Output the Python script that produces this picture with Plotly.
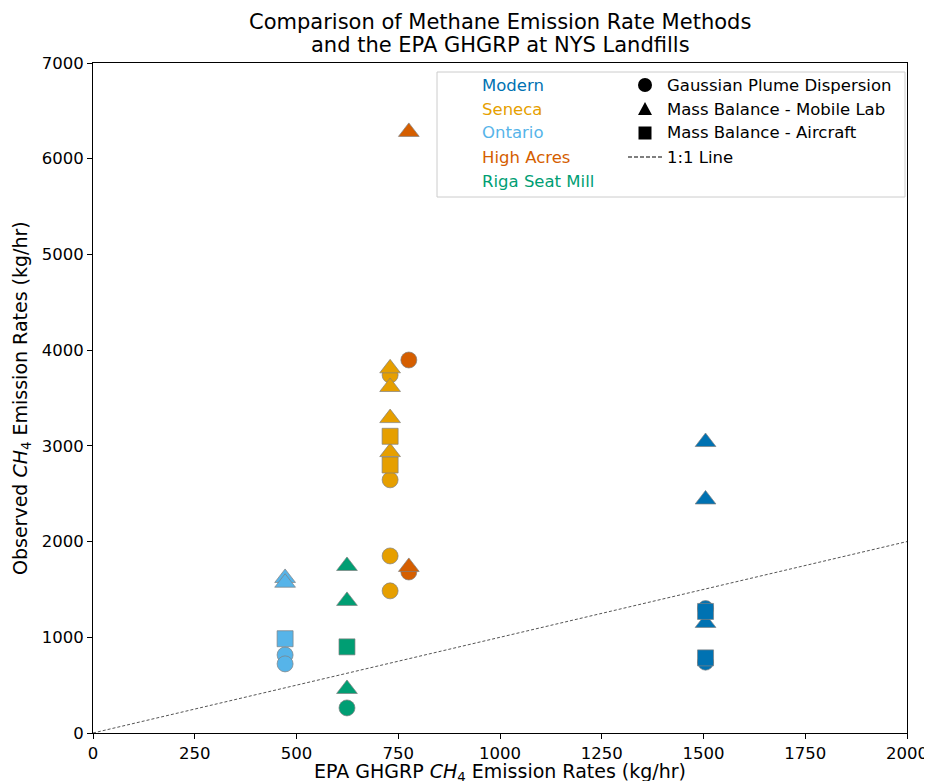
import plotly.graph_objects as go

# ---------------- data ----------------
sites = ["Modern", "Seneca", "Ontario", "High Acres", "Riga Seat Mill"]
site_colors = ["#0072B2", "#E69F00", "#56B4E9", "#D55E00", "#009E73"]
ghgrp = [1505, 730, 472, 776, 624]

methods = ["Gaussian Plume Dispersion", "Mass Balance - Mobile Lab", "Mass Balance - Aircraft"]
method_symbols = ["circle", "triangle-up", "square"]

# observed emissions (kg/hr) per site per method
gaussian = {
    "Modern": [1300, 740],
    "Seneca": [3740, 2645, 1850, 1485],
    "Ontario": [815, 722],
    "High Acres": [3897, 1682],
    "Riga Seat Mill": [262],
}
mobile_lab = {
    "Modern": [3040, 2440, 1150],
    "Seneca": [3810, 3615, 3290, 2935],
    "Ontario": [1620, 1570],
    "High Acres": [6280, 1735],
    "Riga Seat Mill": [1745, 1380, 460],
}
aircraft = {
    "Modern": [1270, 785],
    "Seneca": [3100, 2800],
    "Ontario": [985],
    "High Acres": [],
    "Riga Seat Mill": [900],
}
method_data = [gaussian, mobile_lab, aircraft]

one_to_one_x = [0, 2000]
one_to_one_y = [0, 2000]

x_ticks = [0, 250, 500, 750, 1000, 1250, 1500, 1750, 2000]
y_ticks = [0, 1000, 2000, 3000, 4000, 5000, 6000, 7000]

title_lines = ["Comparison of Methane Emission Rate Methods",
               "and the EPA GHGRP at NYS Landfills"]
x_title = "EPA GHGRP <i>CH</i><sub>4</sub> Emission Rates (kg/hr)"
y_title = "Observed <i>CH</i><sub>4</sub> Emission Rates (kg/hr)"

FONT = "DejaVu Sans"
fig = go.Figure()

fig.add_trace(go.Scatter(
    x=one_to_one_x, y=one_to_one_y, mode="lines",
    line=dict(color="#555555", width=1, dash="3px,2px"),
    showlegend=False, hoverinfo="skip"))

sizes = {"circle": 16, "triangle-up": 18, "square": 16}
for mdata, sym in zip(method_data, method_symbols):
    for site, col, gx in zip(sites, site_colors, ghgrp):
        vals = mdata[site]
        if not vals:
            continue
        fig.add_trace(go.Scatter(
            x=[gx] * len(vals), y=vals, mode="markers",
            marker=dict(symbol=sym, size=sizes[sym], color=col,
                        line=dict(color="#808080", width=0.7)),
            showlegend=False, name=site))

# ---------------- layout geometry (page offset of 8px from body margin) ----------------
OFF = 8
W, H = 932 - OFF, 781 - OFF
L, R, T, B = 93, 907, 63, 733

def px(xp):
    return (xp - L) / (R - L)
def py(yp):
    return (B - yp) / (B - T)

shapes = [dict(type="rect", xref="paper", yref="paper",
               x0=px(437), x1=px(905), y0=py(197), y1=py(72),
               line=dict(color="#CCCCCC", width=1), fillcolor="rgba(255,255,255,0.85)",
               layer="above")]
annotations = []
rows = [85, 109, 133, 157, 181]
LEG_FS = 16.5
for site, col, yr in zip(sites, site_colors, rows):
    annotations.append(dict(xref="paper", yref="paper", x=px(480), y=py(yr),
                            text=site, showarrow=False, xanchor="left", yanchor="middle",
                            font=dict(family=FONT, size=LEG_FS, color=col)))
labels = methods + ["1:1 Line"]
for lab, yr in zip(labels, rows[:4]):
    annotations.append(dict(xref="paper", yref="paper", x=px(665), y=py(yr),
                            text=lab, showarrow=False, xanchor="left", yanchor="middle",
                            font=dict(family=FONT, size=LEG_FS, color="black")))
cx = 645
shapes.append(dict(type="circle", xref="paper", yref="paper",
                   x0=px(cx - 7), x1=px(cx + 7), y0=py(85 + 7), y1=py(85 - 7),
                   fillcolor="black", line=dict(width=0), layer="above"))
ty = 109
shapes.append(dict(type="path", xref="paper", yref="paper",
                   path=f"M {px(cx-7)} {py(ty+6)} L {px(cx+7)} {py(ty+6)} L {px(cx)} {py(ty-7)} Z",
                   fillcolor="black", line=dict(width=0), layer="above"))
shapes.append(dict(type="rect", xref="paper", yref="paper",
                   x0=px(cx - 6.5), x1=px(cx + 6.5), y0=py(133 + 6.5), y1=py(133 - 6.5),
                   fillcolor="black", line=dict(width=0), layer="above"))
shapes.append(dict(type="line", xref="paper", yref="paper",
                   x0=px(628), x1=px(662), y0=py(157), y1=py(157),
                   line=dict(color="black", width=1.2, dash="4px,2px"), layer="above"))

# title as two annotation lines
for line, yl in zip(title_lines, [22, 45]):
    annotations.append(dict(xref="paper", yref="paper", x=0.5, y=py(yl),
                            text=line, showarrow=False, xanchor="center", yanchor="middle",
                            font=dict(family=FONT, size=21, color="black")))
# axis titles as annotations
annotations.append(dict(xref="paper", yref="paper", x=0.5, y=py(772),
                        text=x_title, showarrow=False, xanchor="center", yanchor="middle",
                        font=dict(family=FONT, size=19, color="black")))
annotations.append(dict(xref="paper", yref="paper", x=px(21), y=0.5,
                        text=y_title, showarrow=False, xanchor="center", yanchor="middle",
                        textangle=-90, font=dict(family=FONT, size=19, color="black")))

fig.update_layout(
    width=W, height=H,
    margin=dict(l=L - OFF, r=W - (R - OFF), t=T - OFF, b=H - (B - OFF), autoexpand=False),
    paper_bgcolor="white", plot_bgcolor="white",
    font=dict(family=FONT, size=16.5, color="black"),
    shapes=shapes, annotations=annotations,
    showlegend=False,
)
fig.update_xaxes(range=[0, 2000], tickvals=x_ticks, ticks="outside", ticklen=5,
                 tickcolor="black", showline=True, linecolor="black", linewidth=1,
                 mirror=True, showgrid=False, zeroline=False, automargin=False)
fig.update_yaxes(range=[0, 7000], tickvals=y_ticks, ticks="outside", ticklen=5,
                 tickcolor="black", showline=True, linecolor="black", linewidth=1,
                 mirror=True, showgrid=False, zeroline=False, automargin=False)

fig.write_html("out.html")
